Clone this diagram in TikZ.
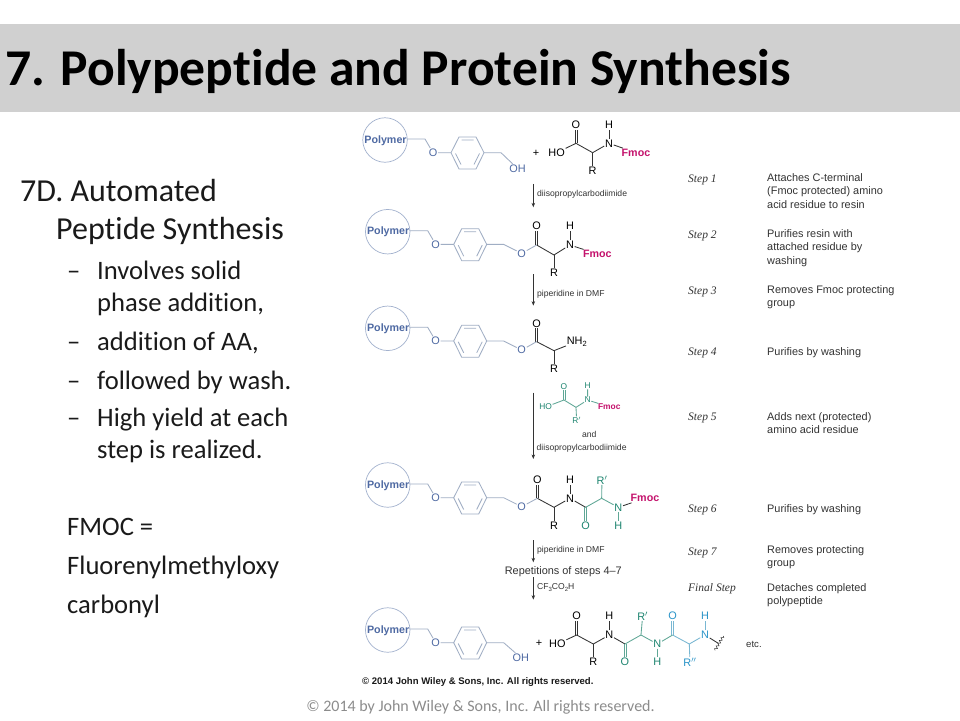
\documentclass[tikz,border=0pt]{standalone}
\usepackage{fontspec}
\setmainfont[Ligatures=NoCommon]{Carlito}
\newfontfamily\arialf{Liberation Sans}
\newfontfamily\serf{Liberation Serif}
\usetikzlibrary{decorations.pathmorphing,arrows.meta}
\definecolor{band}{HTML}{D0D0D0}
\definecolor{polyblue}{HTML}{4F6AA3}
\definecolor{polyline}{HTML}{A3B2CE}
\definecolor{ringline}{HTML}{A0AEC4}
\definecolor{bondk}{HTML}{333333}
\definecolor{pink}{HTML}{C4126C}
\definecolor{greena}{HTML}{1E8570}
\definecolor{greenb}{HTML}{5FA796}
\definecolor{bluea}{HTML}{2A94C8}
\definecolor{blueb}{HTML}{79B7D2}
\definecolor{bodyk}{HTML}{1A1A1A}
\definecolor{foot}{HTML}{8C8C8C}
\tikzset{
  atm/.style={inner sep=.6pt,font=\arialf\fontsize{10.9}{12}\selectfont},
  small/.style={inner sep=.4pt,font=\arialf\fontsize{8.4}{10}\selectfont},
  bnd/.style={line width=.85pt,draw=bondk},
  rxn/.style={line width=.7pt,draw=bondk,-{Stealth[length=4.5pt,width=3.5pt]}},
  cond/.style={inner sep=0,anchor=west,text=bondk,font=\arialf\fontsize{8.6}{10}\selectfont},
  stepl/.style={inner sep=0,anchor=west,text=bondk,font=\serf\itshape\fontsize{11.5}{12}\selectfont},
  desc/.style={inner sep=0,anchor=north west,align=left,text=bondk,font=\arialf\fontsize{10.9}{13.2}\selectfont},
  body/.style={inner sep=0,anchor=base west,text=bodyk,font=\fontsize{32}{34}\selectfont,yshift=-.8pt},
  sub/.style={inner sep=0,anchor=base west,text=bodyk,font=\fontsize{26.6}{28}\selectfont,yshift=-.8pt},
  zoomed/.style={x=.3333pt,y=-.3333pt},
}
\newcommand\atom[4][black]{\node[atm,text=#1] (#2) at (#3) {#4};}
\newcommand\bond[3][bondk]{\draw[bnd,draw=#1] (#2) -- (#3);}
\newcommand\dbond[3][bondk]{%
  \draw[bnd,line width=.65pt,draw=#1,transform canvas={xshift=-1pt}] (#2) -- (#3);%
  \draw[bnd,line width=.65pt,draw=#1,transform canvas={xshift=1pt}] (#2) -- (#3);}
\newcommand\resin[5]{%
\begin{scope}[shift={(#2,#3)},x=1pt,y=-1pt]
  \node[circle,draw=polyline,line width=.7pt,minimum size=44.5pt,inner sep=0] (#1c) at (0,0) {};
  \node[atm,text=polyblue,font=\arialf\bfseries\fontsize{10.7}{12}\selectfont,inner sep=0] (#1p) at (0.5,0.3) {Polymer};
  \coordinate (#1a) at (22,-1); \coordinate (#1b) at (40,-1);
  \node[atm,text=polyblue] (#1o) at (48,12.7) {O};
  \coordinate (#1r1) at (66,12.7); \coordinate (#1r2) at (74,-3); \coordinate (#1r3) at (91,-3);
  \coordinate (#1r4) at (99,12.7); \coordinate (#1r5) at (91,29); \coordinate (#1r6) at (74,29);
  \coordinate (#1t) at (116,12.7);
  \node[atm,text=polyblue] (#1e) at (#4) {#5};
  \draw[bnd,draw=ringline] (#1a) -- (#1b) -- (#1o) -- (#1r1) -- (#1r2) -- (#1r3) -- (#1r4) -- (#1r5) -- (#1r6) -- (#1r1);
  \draw[bnd,draw=ringline] (#1r4) -- (#1t) -- (#1e);
  \draw[bnd,draw=ringline] (76.5,0) -- (88.5,0) (89,24.5) -- (94.5,13.5) (76,24.5) -- (70.5,13.5);
\end{scope}}
\begin{document}
\begin{tikzpicture}[x=1pt,y=-1pt]
\useasboundingbox (0,0) rectangle (960,720);
\fill[white] (0,0) rectangle (960,720);
\fill[band] (0,24) rectangle (960,112);
\node[inner sep=0,anchor=base west,font=\bfseries\fontsize{51.6}{54}\selectfont,text=black] (title) at (5,85.5) {7. Polypeptide and Protein Synthesis};
% left column
\node[body] (b1) at (20,200.7) {7D. Automated};
\node[body] (b2) at (56,238.5) {Peptide Synthesis};
\node[sub] (d1) at (67,278.5) {–}; \node[sub] (s1) at (97,278.5) {Involves solid};
\node[sub] (s1b) at (97,310.5) {phase addition,};
\node[sub] (d2) at (67,350) {–}; \node[sub] (s2) at (97,350) {addition of AA,};
\node[sub] (d3) at (67,388.5) {–}; \node[sub] (s3) at (97,388.5) {followed by wash.};
\node[sub] (d4) at (67,426) {–}; \node[sub] (s4) at (97,426) {High yield at each};
\node[sub] (s4b) at (97,458) {step is realized.};
\node[sub] (f1) at (67,535) {FMOC =};
\node[sub] (f2) at (67,574) {Fluorenylmethyloxy};
\node[sub] (f3) at (67,613) {carbonyl};
% resins
\resin{ra}{385}{140}{132.5,28.5}{OH}
\resin{rb}{387.7}{231.7}{134,21.7}{O}
\resin{rc}{387.7}{328.3}{134,21.7}{O}
\resin{rd}{387.7}{485}{134,21.7}{O}
\resin{re}{387.7}{630}{133,27.5}{OH}
% row 1 amino acid
\begin{scope}[shift={(355,110)},zoomed]
  \atom{pa}{543,130}{+}
  \atom{ha}{605,128}{HO} \coordinate (ca) at (663,100); \atom{oa}{663,45}{O}
  \coordinate (aa) at (713,128); \atom{xa}{713,183}{R}
  \atom{na}{762,100}{N} \atom{ya}{762,45}{H}
  \node[atm,text=pink,font=\arialf\bfseries\fontsize{10.7}{12}\selectfont] (fa) at (843,128) {Fmoc};
  \bond{ha}{ca}\dbond{ca}{oa}\bond{ca}{aa}\bond{aa}{xa}\bond{aa}{na}\bond{na}{ya}\bond{na}{fa}
  % row 2
  \coordinate (cb) at (545,405); \atom{ob}{545,348}{O}
  \coordinate (ab) at (597,435); \atom{xb}{597,488}{R}
  \atom{nb}{645,405}{N} \atom{yb}{645,348}{H}
  \node[atm,text=pink,font=\arialf\bfseries\fontsize{10.7}{12}\selectfont] (fb) at (727,432) {Fmoc};
  \bond{cb}{ab}\dbond{cb}{ob}\bond{ab}{xb}\bond{ab}{nb}\bond{nb}{yb}\bond{nb}{fb}
  \bond[ringline]{rbe}{cb}
  \node[cond] (l1) at (546,253) {diisopropylcarbodiimide};
  \node[cond] (l2) at (546,552) {piperidine in DMF};
  \coordinate (a1s) at (535,222); \coordinate (a1e) at (535,292);
  \draw[rxn] (a1s) -- (a1e);
\end{scope}
% row 3 and green reagent, row 4
\begin{scope}[shift={(355,300)},zoomed]
  \coordinate (a2s) at (535,-78); \coordinate (a2e) at (535,17);
  \draw[rxn] (a2s) -- (a2e);
  \coordinate (cc) at (545,125); \atom{oc}{545,70}{O}
  \coordinate (ac) at (597,152); \atom{xc}{597,207}{R}
  \node[atm,anchor=west,text=black] (nc) at (633,125) {NH\raisebox{-2pt}{\fontsize{7.5}{8}\selectfont 2}};
  \bond{cc}{ac}\dbond{cc}{oc}\bond{ac}{xc}\bond{ac}{nc}
  \bond[ringline]{rce}{cc}
  % reagent
  \coordinate (a3s) at (535,278); \coordinate (a3e) at (535,477);
  \draw[rxn] (a3s) -- (a3e);
  \node[small,text=greena] (hg) at (572,321) {HO};
  \coordinate (cg) at (627,300);
  \node[small,text=greena] (og) at (627,260) {O};
  \coordinate (ag) at (663,322);
  \node[small,text=greena] (xg) at (665,360) {R$'$};
  \node[small,text=greena] (ng) at (698,300) {N};
  \node[small,text=greena] (yg) at (698,258) {H};
  \node[small,text=pink,font=\arialf\bfseries\fontsize{8.4}{10}\selectfont] (fg) at (763,321) {Fmoc};
  \draw[bnd,draw=greenb] (hg) -- (cg) -- (ag) -- (xg) (ag) -- (ng) -- (yg) (ng) -- (fg);
  \dbond[greenb]{cg}{og}
  \node[cond,anchor=center] (l3) at (703,403) {and};
  \node[cond,anchor=center] (l4) at (680,445) {diisopropylcarbodiimide};
  % row 4
  \coordinate (cd) at (547,595); \atom{od}{547,540}{O}
  \coordinate (ad) at (597,622); \atom{xd}{597,677}{R}
  \atom{nd}{645,595}{N} \atom{yd}{645,540}{H}
  \coordinate (ce) at (692,622); \atom[greena]{oe}{692,677}{O}
  \coordinate (ae) at (740,595); \atom[greena]{xe}{741,540}{R$'$}
  \atom[greena]{ne}{790,622}{N} \atom[greena]{ye}{790,677}{H}
  \node[atm,text=pink,font=\arialf\bfseries\fontsize{10.7}{12}\selectfont] (fe) at (870,595) {Fmoc};
  \bond{cd}{ad}\dbond{cd}{od}\bond{ad}{xd}\bond{ad}{nd}\bond{nd}{yd}\bond[bondk]{nd}{ce}
  \bond[greenb]{ce}{ae}\dbond[greenb]{ce}{oe}\bond[greenb]{ae}{xe}\bond[greenb]{ae}{ne}\bond[greenb]{ne}{ye}\bond{ne}{fe}
  \bond[ringline]{rde}{cd}
\end{scope}
% lower part
\begin{scope}[shift={(355,530)},zoomed]
  \coordinate (a4s) at (535,30); \coordinate (a4e) at (535,97);
  \draw[rxn] (a4s) -- (a4e);
  \node[cond] (l5) at (546,62) {piperidine in DMF};
  \node[inner sep=0,text=bondk,font=\arialf\fontsize{10.9}{12}\selectfont] (rep) at (625,124) {Repetitions of steps 4–7};
  \coordinate (a5s) at (535,142); \coordinate (a5e) at (535,209);
  \draw[rxn] (a5s) -- (a5e);
  \node[cond] (l6) at (546,172) {CF\raisebox{-1.5pt}{\fontsize{6}{7}\selectfont 3}CO\raisebox{-1.5pt}{\fontsize{6}{7}\selectfont 2}H};
  % final chain
  \atom{pf}{552,340}{+}
  \atom{hf}{607,342}{HO} \coordinate (cf) at (665,315); \atom{of}{665,258}{O}
  \coordinate (af) at (715,342); \atom{xf}{715,396}{R}
  \atom{nf}{763,315}{N} \atom{yf}{763,258}{H}
  \coordinate (cg2) at (810,342); \atom[greena]{og2}{810,396}{O}
  \coordinate (ag2) at (858,315); \atom[greena]{xg2}{863,258}{R$'$}
  \atom[greena]{ng2}{907,342}{N} \atom[greena]{yg2}{907,396}{H}
  \coordinate (cb2) at (953,315); \atom[bluea]{ob2}{953,258}{O}
  \coordinate (ab2) at (1003,342); \atom[bluea]{xb2}{1005,396}{R$''$}
  \atom[bluea]{nb2}{1050,315}{N} \atom[bluea]{yb2}{1050,258}{H}
  \coordinate (wv) at (1090,340); \coordinate (wa) at (1105,318); \coordinate (wb) at (1080,361);
  \bond{hf}{cf}\dbond{cf}{of}\bond{cf}{af}\bond{af}{xf}\bond{af}{nf}\bond{nf}{yf}\bond{nf}{cg2}
  \bond[greenb]{cg2}{ag2}\dbond[greenb]{cg2}{og2}\bond[greenb]{ag2}{xg2}\bond[greenb]{ag2}{ng2}\bond[greenb]{ng2}{yg2}
  \bond[greenb]{ng2}{cb2}\dbond[blueb]{cb2}{ob2}\bond[blueb]{cb2}{ab2}\bond[blueb]{ab2}{xb2}\bond[blueb]{ab2}{nb2}\bond[blueb]{nb2}{yb2}
  \bond{nb2}{wv}
  \draw[line width=.5pt,draw=bondk,decorate,decoration={snake,amplitude=1.2pt,segment length=3.2pt}] (wa) -- (wb);
  \node[atm,text=bondk,font=\arialf\fontsize{9.6}{11}\selectfont] (etc) at (1197,342) {etc.};
\end{scope}
% step labels
\node[stepl] (s1l) at (688,179.5) {Step 1}; \node[stepl] (s2l) at (688,235.5) {Step 2};
\node[stepl] (s3l) at (688,291.5) {Step 3}; \node[stepl] (s4l) at (688,353) {Step 4};
\node[stepl] (s5l) at (688,418) {Step 5}; \node[stepl] (s6l) at (688,509.5) {Step 6};
\node[stepl] (s7l) at (688,552.5) {Step 7}; \node[stepl] (s8l) at (688,589) {Final Step};
\node[desc] (t1) at (767,173.5) {Attaches C-terminal\\(Fmoc protected) amino\\acid residue to resin};
\node[desc] (t2) at (767,229.5) {Purifies resin with\\attached residue by\\washing};
\node[desc] (t3) at (767,285.5) {Removes Fmoc protecting\\group};
\node[desc] (t4) at (767,347.5) {Purifies by washing};
\node[desc] (t5) at (767,412.5) {Adds next (protected)\\amino acid residue};
\node[desc] (t6) at (767,504) {Purifies by washing};
\node[desc] (t7) at (767,545) {Removes protecting\\group};
\node[desc] (t8) at (767,583) {Detaches completed\\polypeptide};
\node[inner sep=0,anchor=west,text=black!90,font=\arialf\bfseries\fontsize{9.55}{11}\selectfont] (cp) at (362,682) {© 2014 John Wiley \& Sons, Inc. All rights reserved.};
\node[inner sep=0,anchor=base,text=foot,font=\fontsize{16}{18}\selectfont] (ft) at (480.5,711) {© 2014 by John Wiley \& Sons, Inc. All rights reserved.};
\end{tikzpicture}
\end{document}
